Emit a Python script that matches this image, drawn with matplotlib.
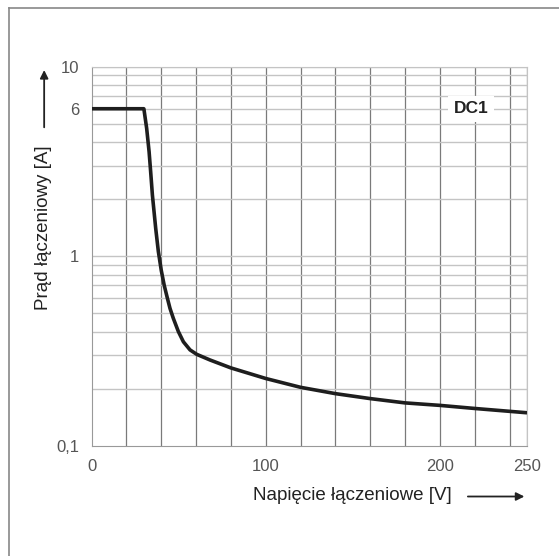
import matplotlib.pyplot as plt
from matplotlib.lines import Line2D

# curve
voltage = [0, 30, 31.6, 33.0, 33.9, 34.9, 36.8, 38.3, 40.0, 41.7, 43.5, 45.0, 46.9, 49.8,
           52.7, 56.5, 60.4, 68, 80, 100, 120, 140, 160, 180, 200, 220, 250]
current = [6, 6, 4.73, 3.56, 2.79, 2.10, 1.40, 1.06, 0.84, 0.70, 0.60, 0.53, 0.47, 0.40,
           0.353, 0.32, 0.303, 0.283, 0.257, 0.226, 0.203, 0.188, 0.177, 0.168, 0.163, 0.157, 0.149]

x_grid = [20, 40, 60, 80, 100, 120, 140, 160, 180, 200, 220, 240, 250]
y_grid = [0.2, 0.3, 0.4, 0.5, 0.6, 0.7, 0.8, 0.9, 1, 2, 3, 4, 5, 6, 7, 8, 9, 10]
x_ticks = [0, 100, 200, 250]
y_ticks = [0.1, 1, 6, 10]
y_ticklabels = ['0,1', '1', '6', '10']

plt.rcParams['font.family'] = ['Liberation Sans', 'DejaVu Sans']

fig = plt.figure(figsize=(5.59, 5.56), dpi=100)
ax = fig.add_axes([0.1639, 0.1986, 0.7789, 0.6814])

for v in x_grid:
    ax.axvline(v, color='#7a7a7a', lw=0.9, zorder=1)
for c in y_grid:
    ax.axhline(c, color='#c4c4c4', lw=1.0, zorder=1)

ax.plot(voltage, current, color='#1e1e1e', lw=2.6, solid_joinstyle='round',
        solid_capstyle='butt', zorder=3)

ax.set_yscale('log')
ax.set_xlim(0, 250)
ax.set_ylim(0.1, 10)
ax.set_xticks(x_ticks)
ax.set_xticklabels([str(t) for t in x_ticks])
ax.set_yticks(y_ticks)
ax.set_yticklabels(y_ticklabels)
ax.minorticks_off()
ax.tick_params(length=0, labelsize=12, colors='#555555')
ax.tick_params(axis='x', pad=10)
ax.tick_params(axis='y', pad=9)

for s in ['top', 'right']:
    ax.spines[s].set_color('#c4c4c4')
for s in ['left', 'bottom']:
    ax.spines[s].set_color('#999999')

ax.text(218, 6, 'DC1', fontsize=12.5, fontweight='bold', color='#222222',
        ha='center', va='center', zorder=4,
        bbox=dict(facecolor='white', edgecolor='none', pad=4))

# axis titles with arrows
fig.text(0.8086, 0.108, 'Napięcie łączeniowe [V]', fontsize=13.5, color='#222222',
         ha='right', va='center')
ax.annotate('', xy=(0.943, 0.107), xytext=(0.832, 0.107), xycoords='figure fraction',
            arrowprops=dict(arrowstyle='-|>', color='#222222', lw=1.3, mutation_scale=12))
fig.text(0.077, 0.739, 'Prąd łączeniowy [A]', fontsize=13.5, color='#222222',
         rotation=90, ha='center', va='top')
ax.annotate('', xy=(0.079, 0.879), xytext=(0.079, 0.766), xycoords='figure fraction',
            arrowprops=dict(arrowstyle='-|>', color='#222222', lw=1.3, mutation_scale=12))

# frame lines of the original picture
fig.add_artist(Line2D([0.016, 1.0], [0.986, 0.986], color='#888888', lw=1.2))
fig.add_artist(Line2D([0.016, 0.016], [0.0, 0.986], color='#888888', lw=1.2))

fig.savefig('out.png', dpi=100)
